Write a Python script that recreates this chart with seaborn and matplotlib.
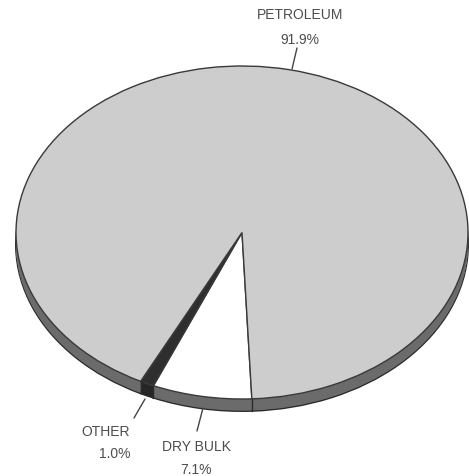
import numpy as np
import matplotlib
matplotlib.use("Agg")
import matplotlib.pyplot as plt
import seaborn as sns

# ---- data ----
categories = ["DRY BULK", "OTHER", "PETROLEUM"]
shares = [7.1, 1.0, 91.9]
pct_labels = ["7.1%", "1.0%", "91.9%"]

sns.set_theme(style="white")
plt.rcParams["font.family"] = ["Liberation Sans", "DejaVu Sans"]

W, H = 469, 477
fig = plt.figure(figsize=(W / 100, H / 100), dpi=100)
fig.patch.set_facecolor("white")
ax = fig.add_axes([0, 0, 1, 1])

# ellipse geometry in pixels (center, radii)
CX, CY, RX, RY = 242, 233.5, 226, 166.5


def P(px, py):
    return ((px - CX) / RX, (CY - py) / RY)


start = -87.5
depth = 12 / RY
top_colors = ["#ffffff", "#2e2e2e", "#cdcdcd"]
side_colors = ["#6b6b6b", "#262626", "#6b6b6b"]

# side (depth) of the 3D pie: stacked copies
layers = np.linspace(depth, 0.004, 30)
for i, d in enumerate(layers):
    if i == 0:
        wp = dict(edgecolor="#2a2a2a", linewidth=1.4)
    else:
        wp = dict(linewidth=0)
    ax.pie(shares, colors=side_colors, startangle=start, counterclock=False,
           center=(0, -d), radius=1, wedgeprops=wp, frame=True)

# slice boundary lines on the side
cum = np.cumsum([0] + shares)
for c in cum[:-1]:
    a = np.deg2rad(start - 360 * c / 100.0)
    x, y = np.cos(a), np.sin(a)
    if y < 0:
        ax.plot([x, x], [y, y - depth], color="#2a2a2a", lw=1)

# top surface
ax.pie(shares, colors=top_colors, startangle=start, counterclock=False,
       center=(0, 0), radius=1,
       wedgeprops=dict(edgecolor="#3a3a3a", linewidth=1.0), frame=True)

ax.set_aspect("auto")
ax.set_xlim(P(0, 0)[0], P(W, 0)[0])
ax.set_ylim(P(0, H)[1], P(0, 0)[1])
ax.axis("off")

# labels and leader lines
tc = "#4d4d4d"
label_pos = {
    "PETROLEUM": ((300, 15), (300, 40), ((297, 49), (292, 70))),
    "OTHER": ((106, 432), (115, 454), ((145, 400), (134, 419))),
    "DRY BULK": ((196, 447), (196, 470), ((203, 409), (197, 432))),
}
for cat, pct in zip(categories, pct_labels):
    (n_xy, p_xy, line) = label_pos[cat]
    ax.text(*P(*n_xy), cat, ha="center", va="center", fontsize=10, color=tc)
    ax.text(*P(*p_xy), pct, ha="center", va="center", fontsize=10, color=tc)
    (x0, y0), (x1, y1) = line
    a0, b0 = P(x0, y0)
    a1, b1 = P(x1, y1)
    ax.plot([a0, a1], [b0, b1], color="#444444", lw=1)

fig.savefig("out.png", dpi=100, facecolor="white")
